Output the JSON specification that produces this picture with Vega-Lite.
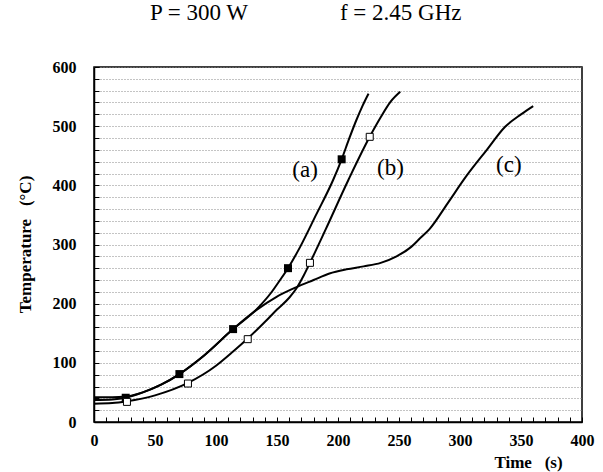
{
  "$schema": "https://vega.github.io/schema/vega-lite/v6.json",
  "width": 488,
  "height": 355,
  "autosize": {"type": "none"},
  "padding": {"left": 94, "top": 67, "right": 21, "bottom": 50},
  "background": "white",
  "config": {
    "view": {"stroke": "black", "strokeWidth": 1.5},
    "font": "Liberation Serif",
    "title": {"font": "Liberation Serif"},
    "axis": {"labelFont": "Liberation Serif", "titleFont": "Liberation Serif"},
    "text": {"font": "Liberation Serif"}
  },
  "title": {
    "text": "P = 300 W\u00a0\u00a0\u00a0\u00a0\u00a0\u00a0\u00a0\u00a0\u00a0\u00a0\u00a0\u00a0\u00a0\u00a0\u00a0\u00a0f = 2.45 GHz",
    "fontSize": 23,
    "fontWeight": "normal",
    "anchor": "start",
    "frame": "group",
    "dx": 56,
    "offset": 34,
    "color": "black"
  },
  "datasets": {
    "curves": [
      {"series": "a", "t": 0, "T": 42}, {"series": "a", "t": 15, "T": 42}, {"series": "a", "t": 26, "T": 43}, {"series": "a", "t": 40, "T": 50}, {"series": "a", "t": 55, "T": 63}, {"series": "a", "t": 70, "T": 81}, {"series": "a", "t": 90, "T": 112}, {"series": "a", "t": 114, "T": 157}, {"series": "a", "t": 133, "T": 190}, {"series": "a", "t": 145, "T": 218}, {"series": "a", "t": 152.5, "T": 240}, {"series": "a", "t": 159, "T": 260}, {"series": "a", "t": 169, "T": 296}, {"series": "a", "t": 182, "T": 350}, {"series": "a", "t": 196, "T": 409}, {"series": "a", "t": 203, "T": 444}, {"series": "a", "t": 209, "T": 478}, {"series": "a", "t": 215, "T": 510}, {"series": "a", "t": 220, "T": 534}, {"series": "a", "t": 225, "T": 555},
      {"series": "b", "t": 0, "T": 31}, {"series": "b", "t": 15, "T": 32}, {"series": "b", "t": 27, "T": 35}, {"series": "b", "t": 50, "T": 45}, {"series": "b", "t": 77, "T": 66}, {"series": "b", "t": 100, "T": 95}, {"series": "b", "t": 114, "T": 119}, {"series": "b", "t": 126, "T": 141}, {"series": "b", "t": 140, "T": 169}, {"series": "b", "t": 150, "T": 190}, {"series": "b", "t": 160, "T": 210}, {"series": "b", "t": 166, "T": 226}, {"series": "b", "t": 172, "T": 248}, {"series": "b", "t": 177, "T": 269}, {"series": "b", "t": 190, "T": 326}, {"series": "b", "t": 208.5, "T": 409}, {"series": "b", "t": 226, "T": 482}, {"series": "b", "t": 235, "T": 515}, {"series": "b", "t": 243, "T": 541}, {"series": "b", "t": 251, "T": 558},
      {"series": "c", "t": 0, "T": 37}, {"series": "c", "t": 15, "T": 38}, {"series": "c", "t": 26, "T": 41}, {"series": "c", "t": 40, "T": 50}, {"series": "c", "t": 55, "T": 63}, {"series": "c", "t": 70, "T": 81}, {"series": "c", "t": 90, "T": 112}, {"series": "c", "t": 114, "T": 157}, {"series": "c", "t": 133, "T": 189}, {"series": "c", "t": 150, "T": 212}, {"series": "c", "t": 166, "T": 228}, {"series": "c", "t": 180, "T": 240}, {"series": "c", "t": 193, "T": 251}, {"series": "c", "t": 207, "T": 258}, {"series": "c", "t": 221, "T": 263}, {"series": "c", "t": 235, "T": 269}, {"series": "c", "t": 248, "T": 280}, {"series": "c", "t": 260, "T": 296}, {"series": "c", "t": 267, "T": 310}, {"series": "c", "t": 275, "T": 326}, {"series": "c", "t": 290, "T": 370}, {"series": "c", "t": 305, "T": 415}, {"series": "c", "t": 322, "T": 460}, {"series": "c", "t": 337, "T": 499}, {"series": "c", "t": 350, "T": 520}, {"series": "c", "t": 360, "T": 534}
    ],
    "markers": [
      {"series": "a", "t": 26, "T": 41}, {"series": "a", "t": 70, "T": 81}, {"series": "a", "t": 114, "T": 157}, {"series": "a", "t": 159, "T": 260}, {"series": "a", "t": 203, "T": 444},
      {"series": "b", "t": 27, "T": 34}, {"series": "b", "t": 77, "T": 65}, {"series": "b", "t": 126, "T": 140}, {"series": "b", "t": 177, "T": 269}, {"series": "b", "t": 226, "T": 482}
    ],
    "labels": [
      {"label": "(a)", "t": 173, "T": 426},
      {"label": "(b)", "t": 243, "T": 429},
      {"label": "(c)", "t": 340, "T": 434}
    ]
  },
  "layer": [
    {
      "data": {"name": "curves"},
      "mark": {"type": "line", "color": "black", "strokeWidth": 2, "interpolate": "monotone"},
      "encoding": {
        "x": {
          "field": "t", "type": "quantitative",
          "scale": {"domain": [0, 400], "nice": false},
          "axis": {
            "title": "Time\u00a0\u00a0\u00a0(s)",
            "values": [0,10,20,30,40,50,60,70,80,90,100,110,120,130,140,150,160,170,180,190,200,210,220,230,240,250,260,270,280,290,300,310,320,330,340,350,360,370,380,390,400],
            "tickCount": 100,
            "labelExpr": "datum.value % 50 === 0 ? datum.label : ''",
            "grid": false,
            "domainColor": "black",
            "domainWidth": 1.5,
            "tickColor": "black",
            "tickSize": -5,
            "tickWidth": 1,
            "labelFontSize": 16,
            "labelFontWeight": "bold",
            "labelColor": "black",
            "labelPadding": 15,
            "labelFlush": false,
            "labelOverlap": false,
            "titleFontSize": 17,
            "titleFontWeight": "bold",
            "titleColor": "black",
            "titleX": 434,
            "titleY": 45,
            "titleAlign": "center",
            "titleBaseline": "alphabetic"
          }
        },
        "y": {
          "field": "T", "type": "quantitative",
          "scale": {"domain": [0, 600], "nice": false},
          "axis": {
            "title": "Temperature\u00a0\u00a0\u00a0(°C)",
            "values": [0,20,40,60,80,100,120,140,160,180,200,220,240,260,280,300,320,340,360,380,400,420,440,460,480,500,520,540,560,580,600],
            "tickCount": 100,
            "labelExpr": "datum.value % 100 === 0 ? datum.label : ''",
            "grid": true,
            "gridColor": "#888888",
            "gridDash": [1, 2],
            "gridWidth": 1,
            "domainColor": "black",
            "domainWidth": 1.5,
            "tickColor": "black",
            "tickSize": -5,
            "tickWidth": 1,
            "labelFontSize": 16,
            "labelFontWeight": "bold",
            "labelColor": "black",
            "labelPadding": 23,
            "labelFlush": false,
            "labelOverlap": false,
            "titleFontSize": 17,
            "titleFontWeight": "bold",
            "titleColor": "black",
            "titleX": -69,
            "titleY": 177,
            "titleAngle": -90,
            "titleAlign": "center",
            "titleBaseline": "middle"
          }
        },
        "detail": {"field": "series"}
      }
    },
    {
      "data": {"name": "markers"},
      "transform": [{"filter": "datum.series === 'a'"}],
      "mark": {"type": "square", "color": "black", "filled": true, "size": 64, "opacity": 1},
      "encoding": {
        "x": {"field": "t", "type": "quantitative"},
        "y": {"field": "T", "type": "quantitative"}
      }
    },
    {
      "data": {"name": "markers"},
      "transform": [{"filter": "datum.series === 'b'"}],
      "mark": {"type": "square", "color": "black", "filled": false, "fill": "white", "strokeWidth": 1, "size": 49, "opacity": 1},
      "encoding": {
        "x": {"field": "t", "type": "quantitative"},
        "y": {"field": "T", "type": "quantitative"}
      }
    },
    {
      "data": {"name": "labels"},
      "mark": {"type": "text", "fontSize": 23, "color": "black", "align": "center", "baseline": "middle"},
      "encoding": {
        "x": {"field": "t", "type": "quantitative"},
        "y": {"field": "T", "type": "quantitative"},
        "text": {"field": "label"}
      }
    }
  ]
}
